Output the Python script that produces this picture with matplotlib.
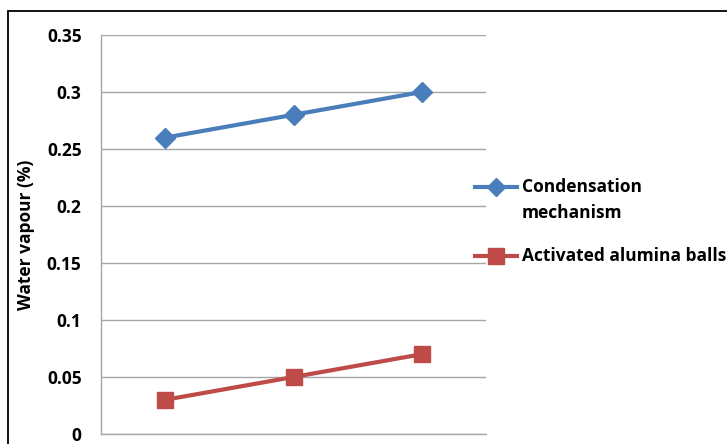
import matplotlib.pyplot as plt
from matplotlib.lines import Line2D
from matplotlib.patches import Rectangle

# three sampling points, x labels sit below the visible area
categories = ["1", "2", "3"]
condensation = [0.26, 0.28, 0.30]
alumina = [0.03, 0.05, 0.07]
series_names = ["Condensation\nmechanism", "Activated alumina balls"]
yticks = [0, 0.05, 0.1, 0.15, 0.2, 0.25, 0.3, 0.35]
ytick_labels = ["0", "0.05", "0.1", "0.15", "0.2", "0.25", "0.3", "0.35"]

BLUE = "#4A7EBB"
RED = "#BE4B48"
GRID = "#A6A6A6"

plt.rcParams["font.family"] = ["Open Sans", "DejaVu Sans"]
plt.rcParams["font.weight"] = "bold"

W, H = 727, 444
fig = plt.figure(figsize=(W / 100, H / 100), dpi=100)
ax = fig.add_axes([101 / W, 1 - 434 / H, 385 / W, 399 / H])

xs = range(len(categories))
ax.plot(xs, condensation, color=BLUE, lw=3, marker="D", ms=10, mec=BLUE, zorder=3, clip_on=False)
ax.plot(xs, alumina, color=RED, lw=3, marker="s", ms=11, mec=RED, zorder=3, clip_on=False)

ax.set_xlim(-0.5, 2.5)
ax.set_ylim(0, 0.35)
ax.set_yticks(yticks)
ax.set_yticklabels(ytick_labels, fontsize=12.5, fontweight="bold")
ax.set_xticks([])
ax.tick_params(axis="y", length=0, pad=14)
ax.grid(axis="y", color=GRID, lw=1)
ax.set_axisbelow(True)
for side in ["top", "right"]:
    ax.spines[side].set_visible(False)
for side in ["left", "bottom"]:
    ax.spines[side].set_color(GRID)
    ax.spines[side].set_linewidth(1)

ax.set_ylabel("Water vapour (%)", fontsize=12.5, fontweight="bold")
ax.yaxis.set_label_coords(-66 / 385, 0.5)

# legend drawn by hand so the wrapped label sits like the original
handles = [(BLUE, "D", 9, 187), (RED, "s", 11, 256)]
for (col, mk, ms, yy), name in zip(handles, series_names):
    yf = 1 - yy / H
    fig.add_artist(Line2D([475 / W, 517 / W], [yf, yf], color=col, lw=3,
                          transform=fig.transFigure))
    fig.add_artist(Line2D([496 / W], [yf], color=col, marker=mk, ms=ms, mec=col,
                          transform=fig.transFigure))
    if "\n" in name:
        fig.text(522 / W, yf + 9 / H, name, fontsize=12.5, fontweight="bold",
                 va="top", ha="left", linespacing=1.55)
    else:
        fig.text(522 / W, yf, name, fontsize=12.5, fontweight="bold",
                 va="center", ha="left")

# outer chart frame, runs off the right and bottom edges
fig.add_artist(Rectangle((8 / W, -0.1), 1.2, 1.1 - 11 / H, fill=False, ec="black", lw=1.3,
                         transform=fig.transFigure))

fig.savefig("out.png", dpi=100)
